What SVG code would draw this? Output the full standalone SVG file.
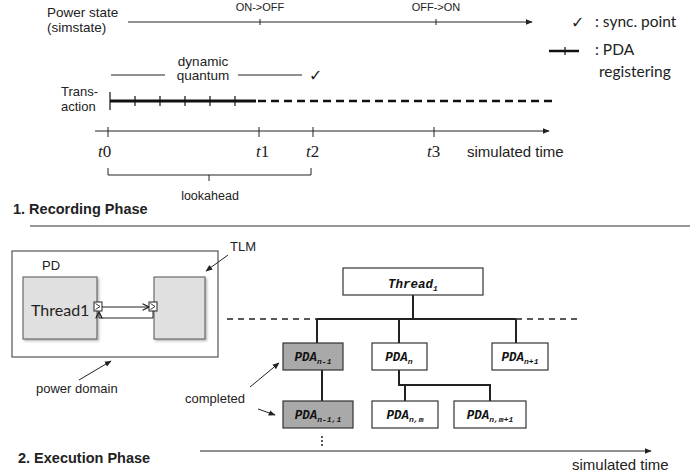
<svg xmlns="http://www.w3.org/2000/svg" width="694" height="476" viewBox="0 0 694 476">
  <defs>
    <style>
      .sans { font-family: "Liberation Sans", Arial, sans-serif; fill: #222; }
      .cal { font-family: Lato, "Liberation Sans", sans-serif; fill: #222; }
      .tim { font-family: "Liberation Serif", "Times New Roman", serif; fill: #222; }
      .mono { font-family: "Liberation Mono", "Courier New", monospace; font-weight: bold; font-style: italic; fill: #111; }
      .sym { font-family: "DejaVu Sans", sans-serif; fill: #222; }
      .ln { stroke: #222; stroke-width: 1; fill: none; }
      .tree { stroke: #222; stroke-width: 2; fill: none; }
      .pda { fill: #fff; stroke: #333; stroke-width: 1.2; }
      .pda.done { fill: #a9a9a9; }
      .blk { fill: #e0e0e0; stroke: #555; stroke-width: 1; }
    </style>
    <marker id="tri" viewBox="0 0 10 10" refX="9" refY="5" markerWidth="7" markerHeight="7" orient="auto">
      <path d="M0,1 L10,5 L0,9 Z" fill="#222"/>
    </marker>
    <marker id="open" viewBox="0 0 10 10" refX="9" refY="5" markerWidth="8" markerHeight="8" orient="auto">
      <path d="M1,1 L9,5 L1,9" fill="none" stroke="#222" stroke-width="1.6"/>
    </marker>
    <filter id="shadow" x="-10%" y="-10%" width="130%" height="130%">
      <feDropShadow dx="1.5" dy="1.5" stdDeviation="1" flood-color="#000" flood-opacity="0.3"/>
    </filter>
  </defs>

  <!-- power state timeline -->
  <g id="power-state">
    <text class="sans" x="47" y="17" font-size="13.5">Power state</text>
    <text class="sans" x="47" y="32" font-size="13.5">(simstate)</text>
    <line class="ln" x1="128" y1="22" x2="532" y2="22" marker-end="url(#tri)"/>
    <line class="ln" x1="260" y1="19" x2="260" y2="25"/>
    <line class="ln" x1="436" y1="19" x2="436" y2="25"/>
    <text class="sans" x="260" y="11" font-size="11" text-anchor="middle">ON-&gt;OFF</text>
    <text class="sans" x="436" y="11" font-size="11" text-anchor="middle">OFF-&gt;ON</text>
  </g>

  <!-- legend -->
  <g id="legend">
    <text class="sym" x="571" y="28" font-size="16">✓</text>
    <text class="cal" x="595" y="27" font-size="15.5">: sync. point</text>
    <line x1="549" y1="51" x2="579" y2="51" stroke="#111" stroke-width="2.5"/>
    <line x1="565" y1="47" x2="565" y2="55" stroke="#111" stroke-width="1.2"/>
    <text class="cal" x="595" y="55" font-size="15.5">: PDA</text>
    <text class="cal" x="599" y="77" font-size="15.5">registering</text>
  </g>

  <!-- dynamic quantum -->
  <g id="quantum">
    <text class="sans" x="203" y="66" font-size="13.5" text-anchor="middle">dynamic</text>
    <text class="sans" x="203" y="80" font-size="13.5" text-anchor="middle">quantum</text>
    <line class="ln" x1="111" y1="75" x2="165" y2="75"/>
    <line class="ln" x1="238" y1="75" x2="302" y2="75"/>
    <text class="sym" x="309" y="81" font-size="16">✓</text>
  </g>

  <!-- transaction line -->
  <g id="transaction">
    <text class="sans" x="61" y="96" font-size="13">Trans-</text>
    <text class="sans" x="61" y="111" font-size="13">action</text>
    <line x1="110" y1="92" x2="110" y2="110" stroke="#111" stroke-width="1.2"/>
    <line x1="110" y1="101" x2="256" y2="101" stroke="#111" stroke-width="2.8"/>
    <line x1="258" y1="101" x2="552" y2="101" stroke="#111" stroke-width="2.5" stroke-dasharray="8,5"/>
    <g stroke="#111" stroke-width="1.2">
      <line x1="135" y1="96" x2="135" y2="106"/>
      <line x1="160" y1="96" x2="160" y2="106"/>
      <line x1="185" y1="96" x2="185" y2="106"/>
      <line x1="210" y1="96" x2="210" y2="106"/>
      <line x1="235" y1="96" x2="235" y2="106"/>
    </g>
  </g>

  <!-- simulated time axis -->
  <g id="time-axis">
    <line class="ln" x1="95" y1="131" x2="549" y2="131" marker-end="url(#tri)"/>
    <line class="ln" x1="108" y1="127" x2="108" y2="137"/>
    <line class="ln" x1="259" y1="127" x2="259" y2="137"/>
    <line class="ln" x1="313" y1="127" x2="313" y2="137"/>
    <line class="ln" x1="434" y1="127" x2="434" y2="137"/>
    <text class="tim" x="98" y="157" font-size="17"><tspan font-style="italic">t</tspan>0</text>
    <text class="tim" x="256" y="157" font-size="17"><tspan font-style="italic">t</tspan>1</text>
    <text class="tim" x="306" y="157" font-size="17"><tspan font-style="italic">t</tspan>2</text>
    <text class="tim" x="427" y="157" font-size="17"><tspan font-style="italic">t</tspan>3</text>
    <text class="sans" x="467" y="157" font-size="15">simulated time</text>
    <path class="ln" d="M108,168 V175 H311 V168 M209,175 V181"/>
    <text class="sans" x="210" y="200" font-size="12.5" text-anchor="middle">lookahead</text>
  </g>

  <!-- phase headings -->
  <g id="recording-phase">
    <text class="sans" x="13" y="214" font-size="14.5" font-weight="bold">1. Recording Phase</text>
    <line x1="30" y1="226" x2="690" y2="226" stroke="#999" stroke-width="2"/>
  </g>

  <!-- power domain block -->
  <g id="power-domain">
    <rect x="12" y="251" width="206" height="106" fill="#fff" stroke="#333" stroke-width="1"/>
    <text class="sans" x="42" y="270" font-size="13">PD</text>
    <rect class="blk" x="23" y="277" width="74" height="62" filter="url(#shadow)"/>
    <rect class="blk" x="154" y="277" width="51" height="62" filter="url(#shadow)"/>
    <text class="cal" x="31" y="316" font-size="16">Thread1</text>
  </g>

  <!-- socket ports and binding -->
  <g id="ports">
    <path class="ln" d="M102,307 H149" marker-end="url(#open)"/>
    <path class="ln" d="M153,311 V318 H99 V312" marker-end="url(#open)"/>
    <rect x="94" y="302" width="8" height="9" fill="#fff" stroke="#222" stroke-width="1"/>
    <path d="M95.5,303.5 L100,306.5 L95.5,309.5" fill="none" stroke="#222" stroke-width="0.9"/>
    <rect x="149" y="302" width="8" height="9" fill="#fff" stroke="#222" stroke-width="1"/>
    <path d="M150.5,303.5 L155,306.5 L150.5,309.5" fill="none" stroke="#222" stroke-width="0.9"/>
  </g>

  <!-- annotations -->
  <g id="annotations">
    <text class="sans" x="230" y="251" font-size="13">TLM</text>
    <line class="ln" x1="228" y1="255" x2="206" y2="271" marker-end="url(#tri)"/>
    <text class="sans" x="36" y="393" font-size="13">power domain</text>
    <line class="ln" x1="79" y1="380" x2="111" y2="361" marker-end="url(#tri)"/>
    <text class="sans" x="185" y="403" font-size="13">completed</text>
    <line class="ln" x1="250" y1="387" x2="279" y2="363" marker-end="url(#tri)"/>
    <line class="ln" x1="258" y1="409" x2="275" y2="415" marker-end="url(#tri)"/>
  </g>

  <!-- tree connectors -->
  <g id="connectors">
    <line x1="227" y1="319" x2="317" y2="319" stroke="#222" stroke-width="1.5" stroke-dasharray="6,5"/>
    <line x1="516" y1="319" x2="578" y2="319" stroke="#222" stroke-width="1.5" stroke-dasharray="6,5"/>
    <path class="tree" d="M413,295 V319 M317,319 H516 M317,319 V343 M399,319 V343 M516,319 V343"/>
    <path class="tree" d="M322,370 V401"/>
    <path class="tree" d="M399,370 V385 H490 V401 M405,385 V401"/>
    <g fill="#222">
      <circle cx="322" cy="437" r="1"/>
      <circle cx="322" cy="441" r="1"/>
      <circle cx="322" cy="445" r="1"/>
    </g>
  </g>

  <!-- tree nodes -->
  <g id="thread1">
    <rect class="pda" x="343" y="268" width="140" height="27"/>
    <text class="mono" x="413" y="288" font-size="12.5" text-anchor="middle">Thread<tspan font-size="8" dy="3">1</tspan></text>
  </g>
  <g id="pda-n-1">
    <rect class="pda done" x="283" y="343" width="60" height="27"/>
    <text class="mono" x="313" y="361" font-size="12.5" text-anchor="middle">PDA<tspan font-size="8" dy="3">n-1</tspan></text>
  </g>
  <g id="pda-n">
    <rect class="pda" x="372" y="343" width="55" height="27"/>
    <text class="mono" x="399" y="361" font-size="12.5" text-anchor="middle">PDA<tspan font-size="8" dy="3">n</tspan></text>
  </g>
  <g id="pda-n+1">
    <rect class="pda" x="492" y="343" width="56" height="27"/>
    <text class="mono" x="520" y="361" font-size="12.5" text-anchor="middle">PDA<tspan font-size="8" dy="3">n+1</tspan></text>
  </g>
  <g id="pda-n-1-1">
    <rect class="pda done" x="283" y="401" width="70" height="27"/>
    <text class="mono" x="318" y="419" font-size="12.5" text-anchor="middle">PDA<tspan font-size="8" dy="3">n-1,1</tspan></text>
  </g>
  <g id="pda-n-m">
    <rect class="pda" x="372" y="401" width="66" height="27"/>
    <text class="mono" x="405" y="419" font-size="12.5" text-anchor="middle">PDA<tspan font-size="8" dy="3">n,m</tspan></text>
  </g>
  <g id="pda-n-m+1">
    <rect class="pda" x="454" y="401" width="72" height="27" stroke="#aaa"/>
    <text class="mono" x="490" y="419" font-size="12.5" text-anchor="middle">PDA<tspan font-size="8" dy="3">n,m+1</tspan></text>
  </g>

  <!-- execution phase -->
  <g id="execution-phase">
    <text class="sans" x="18" y="463" font-size="14.5" font-weight="bold">2. Execution Phase</text>
    <line class="ln" x1="200" y1="451" x2="651" y2="451" marker-end="url(#tri)"/>
    <text class="sans" x="572" y="470" font-size="15">simulated time</text>
  </g>
</svg>
